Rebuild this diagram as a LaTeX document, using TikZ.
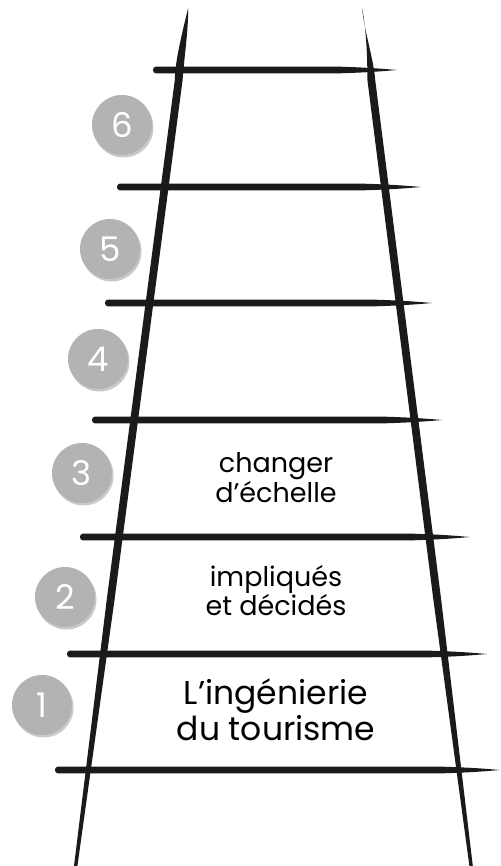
\documentclass[tikz,border=0pt]{standalone}
\usepackage{fontspec}
\setmainfont{Poppins}
\usetikzlibrary{shadows}
\definecolor{ink}{HTML}{1A1A1A}
\definecolor{badge}{HTML}{B3B3B3}
\tikzset{
  badgecircle/.style={circle, fill=badge, minimum size=60pt, inner sep=0pt,
    text=white, font=\fontsize{34}{34}\selectfont,
    drop shadow={shadow xshift=1.5pt, shadow yshift=-2.5pt, opacity=0.35, fill=black!60}},
  steplabel/.style={align=center, text=black, inner sep=0pt},
}
% brush-stroke rung: rounded left end, tapering to a point on the right
\newcommand{\ladderrung}[3]{%
  \fill[ink] (#2+3,#1-3.4) -- (#3-60,#1-3.4)
    .. controls (#3-25,#1-2.4) and (#3-10,#1-0.8) .. (#3,#1)
    .. controls (#3-10,#1+0.8) and (#3-25,#1+2.4) .. (#3-60,#1+3.4)
    -- (#2+3,#1+3.4)
    .. controls (#2-1,#1+3.4) and (#2-1,#1-3.4) .. cycle;}
\begin{document}
\begin{tikzpicture}[x=1pt,y=-1pt]
\useasboundingbox (0,0) rectangle (500,866);
\fill[white] (0,0) rectangle (500,866);

% rails
\fill[ink] (188.1,8) .. controls (183,30) and (175,60) .. (174.8,80)
  -- (106.7,600) -- (74,866) -- (77.4,866) -- (114.5,600) -- (182.6,80)
  .. controls (183.8,60) and (188.6,30) .. cycle;
\fill[ink] (362.1,8) .. controls (366.5,30) and (367.4,60) .. (367.4,80)
  -- (433.4,600) -- (469.4,866) -- (472.8,866) -- (441.2,600) -- (375.2,80)
  .. controls (373.8,60) and (364,30) .. cycle;

% rungs
\ladderrung{70}{153}{397}
\ladderrung{187}{117}{421}
\ladderrung{303}{105}{432}
\ladderrung{420}{92}{442}
\ladderrung{537}{80}{470}
\ladderrung{654}{67}{487}
\ladderrung{770}{55}{500}

% step numbers
\node[badgecircle] (n6) at (122,125) {6};
\node[badgecircle] (n5) at (110,249) {5};
\node[badgecircle] (n4) at (98,359) {4};
\node[badgecircle] (n3) at (82,473) {3};
\node[badgecircle] (n2) at (65,597) {2};
\node[badgecircle] (n1) at (42,705) {1};

% step labels
\node[steplabel, font=\fontsize{27}{30}\selectfont] (t3) at (276,478) {changer\\d’échelle};
\node[steplabel, font=\fontsize{27}{29}\selectfont] (t2) at (276,591) {impliqués\\et décidés};
\node[steplabel, font=\fontsize{33}{36}\selectfont] (t1) at (276,710) {L’ingénierie\\du tourisme};
\end{tikzpicture}
\end{document}
